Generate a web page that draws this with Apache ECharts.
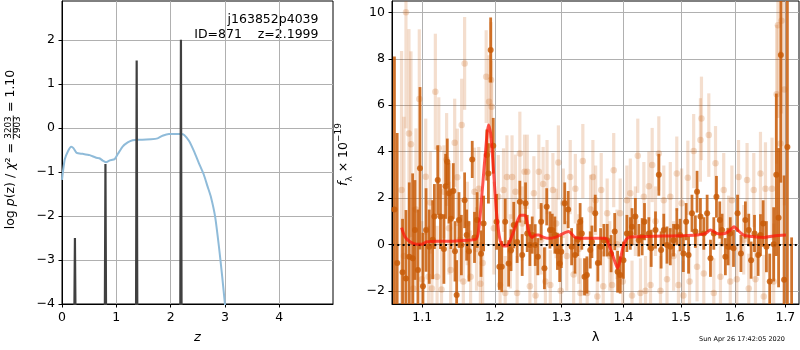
<!DOCTYPE html>
<html>
<head>
<meta charset="utf-8">
<script src="https://cdn.jsdelivr.net/npm/echarts@6/dist/echarts.min.js"></script>
<style>
  html, body { margin: 0; padding: 0; background: #fff; }
  #main { width: 800px; height: 350px; }
</style>
</head>
<body>
<div id="main"></div>
<script>
// p(z) curve (left panel)
var pzZ = [0, 0.05, 0.11, 0.17, 0.21, 0.27, 0.38, 0.51, 0.63, 0.69, 0.75, 0.81, 0.88, 0.97, 1.03, 1.12, 1.21, 1.30, 1.39, 1.48,
  1.64, 1.76, 1.85, 1.97, 2.10, 2.19, 2.25, 2.34, 2.43, 2.52, 2.61, 2.68, 2.74, 2.82, 2.89, 2.95, 3.0, 3.03];
var pzLog = [-1.18, -0.72, -0.53, -0.43, -0.46, -0.57, -0.59, -0.62, -0.68, -0.69, -0.745, -0.78, -0.74, -0.71, -0.59, -0.42, -0.33, -0.28, -0.27, -0.27,
  -0.26, -0.24, -0.18, -0.14, -0.14, -0.14, -0.16, -0.30, -0.53, -0.80, -1.06, -1.33, -1.56, -2.02, -2.70, -3.38, -4.0, -4.4];
// chi2 peaks
var spikeZ = [0.238, 0.80, 1.375, 2.19];
var spikeTop = [-2.5, -0.82, 1.53, 2.0];

var zTicks = [0, 1, 2, 3, 4];
var logpTicks = [-4, -3, -2, -1, 0, 1, 2];
var lamTicks = [1.1, 1.2, 1.3, 1.4, 1.5, 1.6, 1.7];
var fluxTicks = [-2, 0, 2, 4, 6, 8, 10];

// spectrum, first PA (dark points)
var darkWave = [1.0639,1.0674,1.0743,1.0787,1.0830,1.0874,1.0904,1.0943,1.0970,1.1009,
  1.1050,1.1092,1.1138,1.1161,1.1206,1.1243,1.1289,1.1312,1.1335,1.1358,
  1.1385,1.1417,1.1440,1.1463,1.1495,1.1528,1.1573,1.1601,1.1633,1.1679,
  1.1711,1.1748,1.1803,1.1839,1.1885,1.1908,1.1940,1.1977,1.2025,1.2065,
  1.2100,1.2150,1.2200,1.2235,1.2275,1.2325,1.2365,1.2400,1.2450,1.2475,
  1.2515,1.2550,1.2595,1.2635,1.2685,1.2735,1.2770,1.2820,1.2855,1.2895,
  1.2935,1.2970,1.2995,1.3049,1.3103,1.3157,1.3211,1.3254,1.3292,1.3319,
  1.3362,1.3400,1.3454,1.3481,1.3535,1.3578,1.3622,1.3676,1.3730,1.3795,
  1.3854,1.3903,1.3946,1.4000,1.4058,1.4116,1.4145,1.4202,1.4260,1.4318,
  1.4358,1.4434,1.4474,1.4549,1.4607,1.4647,1.4694,1.4751,1.4809,1.4867,
  1.4925,1.4983,1.5043,1.5093,1.5137,1.5199,1.5261,1.5292,1.5354,1.5416,
  1.5478,1.5540,1.5602,1.5652,1.5714,1.5758,1.5820,1.5870,1.5913,1.5975,
  1.6053,1.6118,1.6204,1.6270,1.6316,1.6382,1.6454,1.6500,1.6553,1.6618,
  1.6684,1.6763,1.6816,1.6862,1.6908,1.6974,1.7041,1.7128];
var darkFlux = [1.5,-0.8,-1.2,-1.47,-0.53,-0.6,0.62,-1.1,3.28,-1.8,
  0.62,-0.1,0.2,1.2,2.77,1.2,-0.2,2.5,3.56,2.2,
  1.1,2.3,-0.3,-2.18,1.05,-0.03,1.9,0.4,-0.3,3.66,
  0.3,1.05,-0.4,0.9,3.85,3.06,8.38,4.25,0.97,-0.96,
  -0.96,0.97,-0.82,-0.25,0.83,0.1,1.84,-0.46,1.77,0.47,
  -0.03,0.4,-0.03,-0.53,0.98,-1.03,1.62,0.62,0.62,0.4,
  -0.3,-0.82,-0.32,1.77,1.5,-0.1,-0.46,0.2,0.98,0.47,
  -1.4,-1.32,-0.24,0.11,1.34,-0.8,-0.1,0.18,0.18,-0.4,
  0.55,-1.18,-1.32,-0.68,0.47,0.47,0.76,1.2,0.18,0.33,
  0.98,0.47,-0.17,0.62,3.0,-0.24,0.62,-0.03,-0.1,0.18,
  0.76,0.4,-0.39,0.98,-0.46,1.34,0.55,2.27,1.2,0.47,
  1.34,-0.6,0.47,2.05,1.05,0.62,-0.53,-0.1,0.47,-0.17,
  1.34,-0.39,1.05,0.62,-0.68,0.47,-0.46,0.4,0.9,-0.1,
  -1.6,0.0,3.0,1.15,8.16,-1.53,4.2,-3.0];
var darkErr = [6.6,5.6,2.3,2.95,3.2,3.66,2.15,2.6,3.5,2.3,
  1.8,1.6,1.7,1.4,1.5,1.4,1.5,1.4,1.0,1.3,
  1.3,1.2,1.3,1.5,1.2,1.3,1.2,1.1,1.3,0.8,
  1.1,1.2,1.0,1.2,1.1,1.3,1.4,1.2,1.2,1.0,
  1.1,1.0,1.0,0.9,1.0,0.9,0.9,0.9,0.9,0.8,
  0.9,0.8,0.9,0.8,0.8,0.9,0.8,0.8,0.7,0.8,
  0.8,0.8,0.7,0.9,0.8,0.8,0.8,0.7,0.8,0.7,
  0.8,0.8,0.8,0.7,0.8,0.8,0.8,0.7,0.7,0.8,
  0.8,0.9,0.8,0.8,0.8,0.7,0.8,0.8,0.7,0.8,
  0.8,0.7,0.8,0.8,0.9,0.8,0.7,0.8,0.8,0.7,
  0.8,0.7,0.8,0.8,0.8,0.8,0.7,0.9,0.8,0.7,
  0.8,0.8,0.7,0.9,0.8,0.7,0.8,0.8,0.7,0.8,
  0.8,0.8,0.8,0.7,0.8,0.8,0.9,0.9,1.0,1.1,
  1.2,1.6,3.5,3.0,5.5,4.5,7.0,3.3];

// spectrum, second PA (faint points)
var lightWave = [1.0730,1.0761,1.0787,1.0826,1.0852,1.0883,1.0917,1.0961,1.0996,1.1046,
  1.1083,1.1106,1.1128,1.1174,1.1197,1.1220,1.1257,1.1289,1.1326,1.1358,
  1.1381,1.1436,1.1472,1.1509,1.1532,1.1555,1.1573,1.1610,1.1656,1.1711,
  1.1739,1.1771,1.1794,1.1826,1.1876,1.1917,1.1945,1.1954,1.1986,1.2050,
  1.2075,1.2125,1.2150,1.2175,1.2225,1.2250,1.2300,1.2325,1.2365,1.2400,
  1.2435,1.2475,1.2515,1.2575,1.2600,1.2650,1.2685,1.2715,1.2750,1.2775,
  1.2825,1.2865,1.2915,1.2950,1.2985,1.3027,1.3081,1.3135,1.3189,1.3216,
  1.3270,1.3297,1.3335,1.3405,1.3459,1.3497,1.3541,1.3568,1.3632,1.3665,
  1.3730,1.3773,1.3811,1.3838,1.3892,1.3946,1.3989,1.4058,1.4116,1.4145,
  1.4202,1.4243,1.4289,1.4347,1.4376,1.4434,1.4462,1.4491,1.4549,1.4607,
  1.4636,1.4694,1.4751,1.4809,1.4867,1.4925,1.4954,1.5012,1.5043,1.5124,
  1.5155,1.5230,1.5292,1.5354,1.5373,1.5416,1.5509,1.5602,1.5634,1.5727,
  1.5789,1.5882,1.5913,1.5944,1.6039,1.6072,1.6171,1.6237,1.6270,1.6368,
  1.6401,1.6500,1.6566,1.6599,1.6730,1.6763,1.6822,1.6849,1.6901,1.6921,
  1.6980];
var lightFlux = [2.34,-0.5,10.0,4.78,4.32,-1.9,1.5,6.27,-1.5,2.92,
  -1.4,1.8,-1.9,6.58,-1.4,4.14,-1.95,2.27,3.66,0.7,
  -1.1,4.38,2.89,0.2,5.14,-1.6,7.8,0.9,-1.4,2.27,
  -0.2,2.4,-1.7,-0.8,7.23,6.15,7.08,5.93,0.7,2.05,
  -1.75,2.34,-2.1,2.9,-0.3,2.9,2.27,-2.1,3.92,0.9,
  3.13,3.13,-1.8,2.2,-2.2,3.13,0.2,2.6,-1.6,2.9,
  -1.75,2.34,0.9,3.53,-2.0,1.77,-0.5,2.9,-1.3,2.4,
  -0.2,-2.1,3.59,-2.1,1.5,2.9,1.9,-2.25,2.34,-1.8,
  1.34,-0.5,-1.75,3.2,0.0,1.34,-1.6,1.9,2.2,-2.2,
  1.0,3.82,-2.1,2.05,-2.0,2.5,-1.75,3.42,1.0,3.92,
  -2.0,1.9,-1.5,2.05,-0.5,3.05,-1.75,1.77,-2.2,2.87,
  -1.6,4.02,-0.96,4.5,5.43,-1.25,4.71,-2.1,3.5,-1.4,
  2.34,0.6,-1.6,1.9,-1.5,2.9,0.2,2.77,-1.9,2.34,
  -1.5,3.05,-2.25,2.4,2.4,-1.6,6.47,9.45,4.35,9.64,
  6.68];
var lightErr = [6.0,6.0,5.0,4.5,4.0,3.5,3.5,3.0,2.5,2.5,
  2.2,2.2,2.2,2.5,2.2,2.2,2.0,2.0,2.0,2.0,
  2.0,1.9,2.1,1.8,2.0,1.9,2.0,1.8,2.0,1.9,
  1.8,1.8,1.8,1.8,2.0,2.0,2.5,2.0,2.0,1.8,
  1.8,1.8,1.6,1.8,1.6,1.8,1.6,1.6,1.8,1.6,
  1.6,1.6,1.6,1.6,1.6,1.6,1.5,1.6,1.5,1.6,
  1.5,1.6,1.5,1.6,1.5,1.5,1.5,1.6,1.5,1.5,
  1.5,1.5,1.6,1.5,1.5,1.6,1.5,1.5,1.6,1.5,
  1.5,1.5,1.5,1.6,1.5,1.5,1.5,1.5,1.5,1.5,
  1.5,1.6,1.5,1.5,1.5,1.5,1.5,1.6,1.5,1.6,
  1.5,1.5,1.5,1.5,1.5,1.6,1.5,1.5,1.5,1.6,
  1.5,1.6,1.5,1.8,1.8,1.5,1.8,1.5,1.6,1.5,
  1.6,1.5,1.5,1.5,1.5,1.6,1.5,1.6,1.5,1.6,
  1.5,1.8,1.8,2.0,2.2,2.5,3.0,4.0,4.0,4.0,
  5.0];

// best-fit template
var modelWave = [1.073,1.0774,1.084,1.0926,1.099,1.106,1.12,1.138,1.156,1.173,
  1.177,1.1817,1.186,1.191,1.194,1.1977,1.2025,1.2075,1.2125,1.2175,
  1.2225,1.23,1.2375,1.244,1.25,1.255,1.26,1.265,1.2725,1.28,
  1.29,1.2975,1.311,1.3216,1.335,1.3568,1.3703,1.377,1.3849,1.3903,
  1.3957,1.4012,1.4087,1.4231,1.4694,1.4983,1.5292,1.5447,1.554,1.5634,
  1.5727,1.582,1.5913,1.5988,1.6053,1.6171,1.6368,1.6566,1.6763,1.7013];
var modelFlux = [0.72,0.33,0.11,0.0,0.0,0.11,0.14,0.14,0.17,0.22,
  0.62,2.2,3.78,5.14,4.78,3.35,1.34,0.19,-0.07,-0.06,
  0.19,0.76,1.26,1.26,0.55,0.3,0.4,0.4,0.3,0.26,
  0.3,0.4,0.55,0.3,0.26,0.26,0.26,-0.1,-0.68,-1.03,
  -0.53,0.04,0.3,0.33,0.36,0.37,0.4,0.47,0.62,0.5,
  0.45,0.47,0.62,0.76,0.62,0.4,0.33,0.3,0.36,0.4];

var FONT = 'DejaVu Sans';
var ORANGE = '#c85c08';

function minus(v) {
  return v < 0 ? '\u2212' + Math.abs(v) : String(v);
}

// wavelength axis is logarithmic: plot ln(lambda)
function specData(wave, flux, err) {
  return wave.map(function (w, i) { return [Math.log(w), flux[i], err[i]]; });
}

function errBars(width, opacity) {
  return function (params, api) {
    var x = api.value(0), y = api.value(1), e = api.value(2);
    var top = api.coord([x, y + e]);
    var bot = api.coord([x, y - e]);
    return {
      type: 'rect',
      shape: { x: top[0] - width / 2, y: top[1], width: width, height: bot[1] - top[1] },
      style: { fill: ORANGE, opacity: opacity }
    };
  };
}

var axisCommon = {
  axisLine: { show: true, onZero: false, lineStyle: { color: '#000', width: 1 } },
  axisTick: { show: true, inside: false, length: 3.5, lineStyle: { color: '#000', width: 1 } },
  splitLine: { show: true, lineStyle: { color: '#b0b0b0', width: 1 } },
  axisLabel: { color: '#000', fontFamily: FONT, fontSize: 12.5, margin: 7 }
};

function axis(extra) {
  var a = JSON.parse(JSON.stringify(axisCommon));
  for (var k in extra) {
    if (typeof extra[k] === 'object' && a[k] && !Array.isArray(extra[k])) {
      for (var j in extra[k]) a[k][j] = extra[k][j];
    } else {
      a[k] = extra[k];
    }
  }
  return a;
}

var myChart = echarts.init(document.getElementById('main'));

var spikeSeries = spikeZ.map(function (z, i) {
  return {
    type: 'line', xAxisIndex: 0, yAxisIndex: 0, showSymbol: false, silent: true,
    lineStyle: { color: '#404040', width: 2.2 }, z: 3,
    data: [[z - 0.012, -4.5], [z, spikeTop[i]], [z + 0.012, -4.5]]
  };
});

var lamMin = Math.log(1.0608), lamMax = Math.log(1.728);
var lamTickVals = lamTicks.map(Math.log);

option = {
  animation: false,
  backgroundColor: '#fff',
  grid: [
    { left: 62, top: 1, width: 271, height: 303, show: true, borderColor: '#000', borderWidth: 1, outerBoundsMode: 'none' },
    { left: 392, top: 1, width: 407, height: 303, show: true, borderColor: '#000', borderWidth: 1, outerBoundsMode: 'none' }
  ],
  xAxis: [
    axis({
      type: 'value', gridIndex: 0, min: 0, max: 4.99,
      name: 'z', nameLocation: 'middle', nameGap: 27,
      nameTextStyle: { fontFamily: FONT, fontSize: 13, fontStyle: 'italic', color: '#000' },
      axisTick: { customValues: zTicks },
      axisLabel: { customValues: zTicks, formatter: function (v) { return minus(v); } }
    }),
    axis({
      type: 'value', gridIndex: 1, min: lamMin, max: lamMax,
      name: '\u03bb', nameLocation: 'middle', nameGap: 27,
      nameTextStyle: { fontFamily: FONT, fontSize: 13, color: '#000' },
      axisTick: { customValues: lamTickVals },
      axisLabel: { customValues: lamTickVals, formatter: function (v) { return Math.exp(v).toFixed(1); } }
    })
  ],
  yAxis: [
    axis({
      type: 'value', gridIndex: 0, min: -4, max: 2.88,
      axisTick: { customValues: logpTicks },
      axisLabel: { customValues: logpTicks, formatter: function (v) { return minus(Math.round(v)); } }
    }),
    axis({
      type: 'value', gridIndex: 1, min: -2.57, max: 10.49,
      axisTick: { customValues: fluxTicks },
      axisLabel: { customValues: fluxTicks, formatter: function (v) { return minus(Math.round(v)); } }
    })
  ],
  graphic: [
    {
      type: 'group', x: 10.5, y: 153.5, rotation: Math.PI / 2, silent: true,
      children: [
        { type: 'text', x: 10.5, y: 0, style: {
            text: '{n|log }{i|p}{n|(z) / }{i|\u03c7}{n|\u00b2 =}', align: 'right', verticalAlign: 'middle',
            rich: { n: { fontFamily: FONT, fontSize: 12.5, fill: '#000' },
                    i: { fontFamily: FONT, fontSize: 12.5, fontStyle: 'italic', fill: '#000' } } } },
        { type: 'text', x: 26, y: -1.8, style: { text: '3203', fontFamily: FONT, fontSize: 8.8, fill: '#000', align: 'center', verticalAlign: 'middle' } },
        { type: 'line', shape: { x1: 14, y1: 2.8, x2: 38, y2: 2.8 }, style: { stroke: '#000', lineWidth: 0.8 } },
        { type: 'text', x: 26, y: 7.6, style: { text: '2903', fontFamily: FONT, fontSize: 8.8, fill: '#000', align: 'center', verticalAlign: 'middle' } },
        { type: 'text', x: 41.5, y: 0, style: { text: '= 1.10', fontFamily: FONT, fontSize: 12.5, fill: '#000', align: 'left', verticalAlign: 'middle' } }
      ]
    },
    {
      type: 'text', x: 344, y: 154.5, rotation: Math.PI / 2, silent: true,
      style: {
        text: '{i|f}{sub|\u03bb}{n| \u00d7 10}{sup|\u221219}', align: 'center', verticalAlign: 'middle',
        rich: {
          i: { fontFamily: FONT, fontSize: 12.5, fontStyle: 'italic', fill: '#000', lineHeight: 20, verticalAlign: 'middle' },
          n: { fontFamily: FONT, fontSize: 12.5, fill: '#000', lineHeight: 20, verticalAlign: 'middle' },
          sub: { fontFamily: FONT, fontSize: 9, fill: '#000', lineHeight: 20, verticalAlign: 'bottom' },
          sup: { fontFamily: FONT, fontSize: 9, fill: '#000', lineHeight: 20, verticalAlign: 'top' }
        }
      }
    },
    { type: 'text', x: 318.5, y: 19.5, silent: true,
      style: { text: 'j163852p4039', fontFamily: FONT, fontSize: 12.5, fill: '#000', align: 'right', verticalAlign: 'middle' } },
    { type: 'text', x: 318.5, y: 34.5, silent: true,
      style: { text: 'ID=871    z=2.1999', fontFamily: FONT, fontSize: 12.5, fill: '#000', align: 'right', verticalAlign: 'middle' } },
    { type: 'text', x: 742, y: 339.5, silent: true,
      style: { text: 'Sun Apr 26 17:42:05 2020', fontFamily: FONT, fontSize: 6.5, fill: '#000', align: 'center', verticalAlign: 'middle' } }
  ],
  series: [
    {
      name: 'p(z)', type: 'line', xAxisIndex: 0, yAxisIndex: 0, showSymbol: false, silent: true,
      smooth: 0.2, lineStyle: { color: '#8fbbd9', width: 2 }, z: 2,
      data: pzZ.map(function (z, i) { return [z, pzLog[i]]; })
    }
  ].concat(spikeSeries).concat([
    {
      name: 'pa2 err', type: 'custom', xAxisIndex: 1, yAxisIndex: 1, clip: true, silent: true,
      renderItem: errBars(3.2, 0.2), encode: { x: 0, y: 1 },
      data: specData(lightWave, lightFlux, lightErr), z: 2
    },
    {
      name: 'pa2', type: 'scatter', xAxisIndex: 1, yAxisIndex: 1, symbolSize: 6.5, silent: true, clip: true,
      itemStyle: { color: ORANGE, opacity: 0.22 },
      data: specData(lightWave, lightFlux, lightErr), z: 3
    },
    {
      name: 'pa1 err', type: 'custom', xAxisIndex: 1, yAxisIndex: 1, clip: true, silent: true,
      renderItem: errBars(2.8, 0.85), encode: { x: 0, y: 1 },
      data: specData(darkWave, darkFlux, darkErr), z: 4
    },
    {
      name: 'pa1', type: 'scatter', xAxisIndex: 1, yAxisIndex: 1, symbolSize: 6, silent: true, clip: true,
      itemStyle: { color: ORANGE, opacity: 0.85 },
      data: specData(darkWave, darkFlux, darkErr), z: 5
    },
    {
      name: 'model', type: 'line', xAxisIndex: 1, yAxisIndex: 1, showSymbol: false, silent: true,
      smooth: 0.25, lineStyle: { color: 'rgba(255,20,10,0.72)', width: 3 }, z: 6,
      data: modelWave.map(function (w, i) { return [Math.log(w), modelFlux[i]]; }),
      markLine: {
        silent: true, symbol: 'none', label: { show: false },
        lineStyle: { color: '#000', width: 2, type: [2, 3.3] },
        data: [{ yAxis: 0 }]
      }
    }
  ])
};

myChart.setOption(option);
</script>
</body>
</html>
